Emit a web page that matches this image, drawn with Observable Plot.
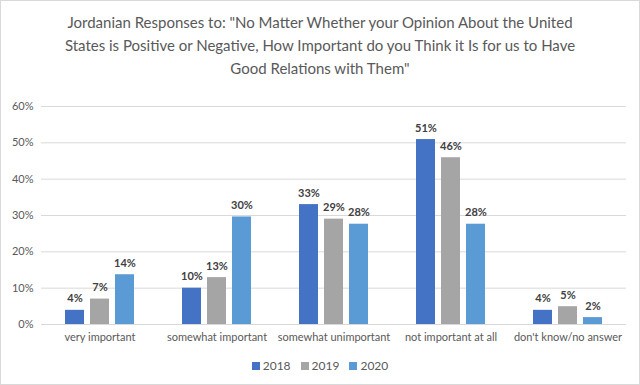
<!DOCTYPE html>
<html><head><meta charset="utf-8">
<script src="https://cdn.jsdelivr.net/npm/d3@7"></script>
<script src="https://cdn.jsdelivr.net/npm/@observablehq/plot@0.6"></script>
<style>
body{margin:0;background:#fff;}
#wrap{width:638px;height:383px;border:1px solid #d9d9d9;position:relative;font-family:Lato,"Open Sans",sans-serif;overflow:hidden;}
#title{position:absolute;top:10px;left:0;width:638px;text-align:center;font-size:15px;line-height:23px;color:#595959;}
#chart{position:absolute;top:80px;left:0;}
#legend{position:absolute;top:357px;left:0;width:638px;text-align:center;font-size:12px;color:#595959;}
#legend span{margin:0 5px;}
#legend i{display:inline-block;width:8px;height:8px;margin-right:3px;}
</style></head><body>
<div id="wrap">
<div id="title">Jordanian Responses to: "No Matter Whether your Opinion About the United<br>States is Positive or Negative, How Important do you Think it Is for us to Have<br>Good Relations with Them"</div>
<div id="chart"></div>
<div id="legend"></div>
</div>
<script>
const categories = ["very important","somewhat important","somewhat unimportant","not important at all","don't know/no answer"];
const years = ["2018","2019","2020"];
const colors = ["#4472C4","#A5A5A5","#5B9BD5"];
const v2018 = [3.9, 10.0, 33.0, 50.9, 3.9];
const v2019 = [7.0, 12.9, 29.0, 45.9, 4.9];
const v2020 = [13.7, 29.6, 27.6, 27.6, 1.9];
const yTicks = [0,10,20,30,40,50,60];

const series = [v2018, v2019, v2020];
const data = [];
categories.forEach((c,i)=>years.forEach((y,j)=>data.push({category:c, year:y, value:series[j][i]})));

const chart = Plot.plot({
  width: 638, height: 270,
  marginLeft: 40, marginRight: 13, marginTop: 25, marginBottom: 27,
  fx: {domain: categories, padding: 0, label: null, tickSize: 0, tickPadding: 9},
  x: {domain: years, paddingInner: 0.23, paddingOuter: 0.87, axis: null},
  y: {domain: [0,60], ticks: yTicks, tickFormat: d => d + "%", label: null, tickSize: 0, tickPadding: 8},
  color: {domain: years, range: colors},
  style: {fontFamily: "Lato, 'Open Sans', sans-serif", fontSize: "11px", color: "#595959"},
  marks: [
    Plot.ruleY(yTicks.filter(d=>d>0), {stroke: "#d9d9d9", strokeWidth: 1}),
    Plot.barY(data, {fx: "category", x: "year", y: "value", fill: "year"}),
    Plot.ruleY([0], {stroke: "#d9d9d9", strokeWidth: 1}),
    Plot.text(data, {fx: "category", x: "year", y: "value", text: d => Math.round(d.value) + "%", dy: -8, lineAnchor: "bottom", fontWeight: "bold", fill: "#404040", fontSize: 11})
  ]
});
document.getElementById("chart").appendChild(chart);

const lg = document.getElementById("legend");
years.forEach((y,j)=>{
  const s = document.createElement("span");
  s.innerHTML = `<i style="background:${colors[j]}"></i>${y}`;
  lg.appendChild(s);
});
</script>
</body></html>
